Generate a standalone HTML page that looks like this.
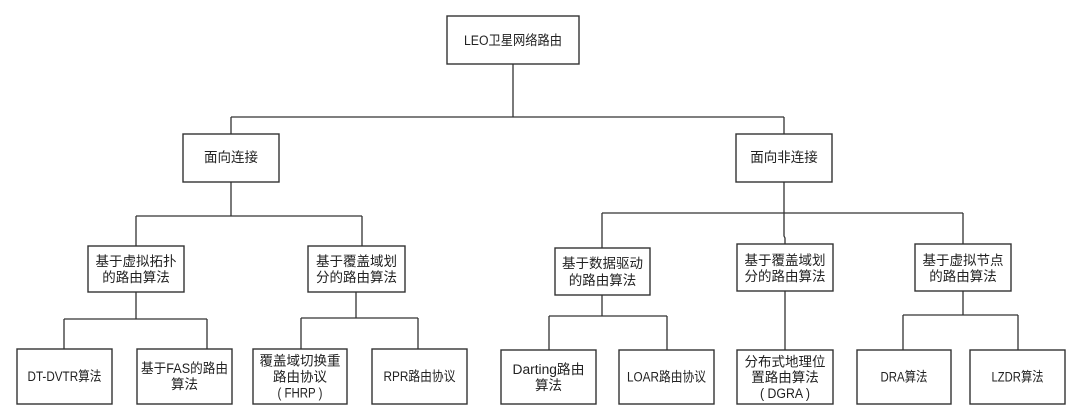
<!DOCTYPE html>
<html>
<head>
<meta charset="utf-8">
<style>
  html, body { margin:0; padding:0; background:#fff; }
  svg { display:block; }
  text { font-family: "Liberation Sans", "Noto Sans CJK SC", "WenQuanYi Zen Hei", sans-serif; font-size:13.5px; fill:#222; text-anchor:middle; }
  .b { fill:#fff; stroke:#333; stroke-width:1.4; }
  .l { stroke:#333; stroke-width:1.3; fill:none; }
</style>
</head>
<body>
<svg width="1080" height="420" viewBox="0 0 1080 420" xmlns="http://www.w3.org/2000/svg">
  <!-- connectors -->
  <path class="l" d="M513 64 V117 M231 117 H784 M231 117 V134 M784 117 V134"/>
  <path class="l" d="M231 182 V216 M136 216 H362 M136 216 V246 M362 216 V246"/>
  <path class="l" d="M136 292 V319 M64 319 H207 M64 319 V349 M207 319 V349"/>
  <path class="l" d="M356 292 V318 M301 318 H418 M301 318 V349 M418 318 V349"/>
  <path class="l" d="M784 182 V213 M602 213 H963 M602 213 V248 M784 213 V236 L785 238 V244 M963 213 V244"/>
  <path class="l" d="M602 295 V316 M549 316 H667 M549 316 V350 M667 316 V350"/>
  <path class="l" d="M785 291 V350"/>
  <path class="l" d="M963 291 V315 M903 315 H1018 M903 315 V350 M1018 315 V350"/>

  <!-- root -->
  <rect class="b" x="447" y="16" width="132" height="48"/>
  <text x="513" y="45" textLength="98" lengthAdjust="spacingAndGlyphs">LEO卫星网络路由</text>

  <!-- level 2 -->
  <rect class="b" x="183" y="134" width="96" height="48"/>
  <text x="231" y="162">面向连接</text>
  <rect class="b" x="736" y="134" width="96" height="48"/>
  <text x="784" y="162">面向非连接</text>

  <!-- level 3 -->
  <rect class="b" x="88" y="246" width="96" height="46"/>
  <text x="136" y="266">基于虚拟拓扑</text>
  <text x="136" y="282">的路由算法</text>

  <rect class="b" x="308" y="246" width="97" height="46"/>
  <text x="356.5" y="266">基于覆盖域划</text>
  <text x="356.5" y="282">分的路由算法</text>

  <rect class="b" x="555" y="248" width="95" height="47"/>
  <text x="602.5" y="268">基于数据驱动</text>
  <text x="602.5" y="285">的路由算法</text>

  <rect class="b" x="737" y="244" width="96" height="47"/>
  <text x="785" y="265">基于覆盖域划</text>
  <text x="785" y="281">分的路由算法</text>

  <rect class="b" x="915" y="244" width="96" height="47"/>
  <text x="963" y="265">基于虚拟节点</text>
  <text x="963" y="281">的路由算法</text>

  <!-- leaves -->
  <rect class="b" x="17" y="349" width="95" height="55"/>
  <text x="64.5" y="381" textLength="74" lengthAdjust="spacingAndGlyphs">DT-DVTR算法</text>

  <rect class="b" x="137" y="349" width="95" height="55"/>
  <text x="184.5" y="373" textLength="87" lengthAdjust="spacingAndGlyphs">基于FAS的路由</text>
  <text x="184.5" y="389">算法</text>

  <rect class="b" x="253" y="349" width="94" height="55"/>
  <text x="300" y="365.5">覆盖域切换重</text>
  <text x="300" y="381.5">路由协议</text>
  <text x="300" y="397.5" textLength="45" lengthAdjust="spacingAndGlyphs">( FHRP )</text>

  <rect class="b" x="372" y="349" width="95" height="55"/>
  <text x="419.5" y="381" textLength="72" lengthAdjust="spacingAndGlyphs">RPR路由协议</text>

  <rect class="b" x="501" y="350" width="95" height="54"/>
  <text x="548.5" y="374" textLength="72" lengthAdjust="spacingAndGlyphs">Darting路由</text>
  <text x="548.5" y="390">算法</text>

  <rect class="b" x="619" y="350" width="95" height="54"/>
  <text x="666.5" y="381.5" textLength="79" lengthAdjust="spacingAndGlyphs">LOAR路由协议</text>

  <rect class="b" x="737" y="350" width="96" height="54"/>
  <text x="785" y="366.5">分布式地理位</text>
  <text x="785" y="382">置路由算法</text>
  <text x="785" y="398" textLength="50" lengthAdjust="spacingAndGlyphs">( DGRA )</text>

  <rect class="b" x="857" y="350" width="94" height="54"/>
  <text x="904" y="381.5" textLength="47" lengthAdjust="spacingAndGlyphs">DRA算法</text>

  <rect class="b" x="970" y="350" width="95" height="54"/>
  <text x="1017.5" y="381.5" textLength="52" lengthAdjust="spacingAndGlyphs">LZDR算法</text>
</svg>
</body>
</html>
